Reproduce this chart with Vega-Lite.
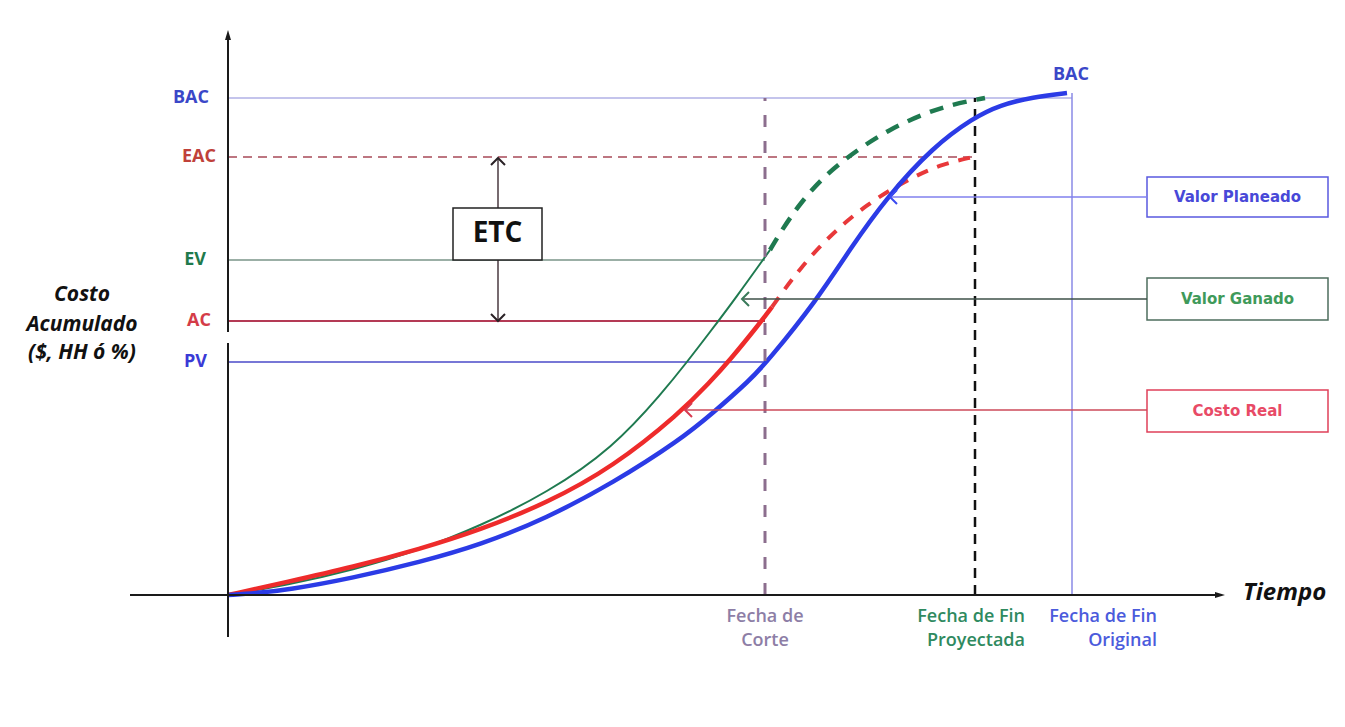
{
  "$schema": "https://vega.github.io/schema/vega-lite/v6.json",
  "width": 1345,
  "height": 727,
  "autosize": {"type": "fit", "contains": "padding"},
  "padding": 0,
  "background": "white",
  "config": {"view": {"stroke": null}},
  "datasets": {
    "curves": [
      {"s": "PV", "x": 0, "y": 0}, {"s": "PV", "x": 30, "y": 2}, {"s": "PV", "x": 59, "y": 5}, {"s": "PV", "x": 125, "y": 17},
      {"s": "PV", "x": 192, "y": 33}, {"s": "PV", "x": 252, "y": 50}, {"s": "PV", "x": 319, "y": 77},
      {"s": "PV", "x": 385, "y": 112}, {"s": "PV", "x": 452, "y": 155}, {"s": "PV", "x": 485, "y": 182},
      {"s": "PV", "x": 522, "y": 215}, {"s": "PV", "x": 539, "y": 233}, {"s": "PV", "x": 589, "y": 295}, {"s": "PV", "x": 622, "y": 346},
      {"s": "PV", "x": 659, "y": 398}, {"s": "PV", "x": 705, "y": 448}, {"s": "PV", "x": 745, "y": 477}, {"s": "PV", "x": 772, "y": 490},
      {"s": "PV", "x": 805, "y": 498}, {"s": "PV", "x": 839, "y": 502},
      {"s": "ACs", "x": 0, "y": 0}, {"s": "ACs", "x": 59, "y": 13}, {"s": "ACs", "x": 125, "y": 28}, {"s": "ACs", "x": 192, "y": 46},
      {"s": "ACs", "x": 252, "y": 65}, {"s": "ACs", "x": 319, "y": 92}, {"s": "ACs", "x": 385, "y": 128}, {"s": "ACs", "x": 452, "y": 182},
      {"s": "ACs", "x": 482, "y": 213}, {"s": "ACs", "x": 502, "y": 235}, {"s": "ACs", "x": 532, "y": 272}, {"s": "ACs", "x": 544, "y": 288},
      {"s": "ACd", "x": 544, "y": 288}, {"s": "ACd", "x": 556, "y": 305}, {"s": "ACd", "x": 572, "y": 326}, {"s": "ACd", "x": 592, "y": 349},
      {"s": "ACd", "x": 615, "y": 371}, {"s": "ACd", "x": 639, "y": 390}, {"s": "ACd", "x": 662, "y": 405}, {"s": "ACd", "x": 689, "y": 420},
      {"s": "ACd", "x": 715, "y": 431}, {"s": "ACd", "x": 745, "y": 438},
      {"s": "EVs", "x": 0, "y": 0}, {"s": "EVs", "x": 59, "y": 10}, {"s": "EVs", "x": 125, "y": 25}, {"s": "EVs", "x": 192, "y": 45},
      {"s": "EVs", "x": 252, "y": 69}, {"s": "EVs", "x": 319, "y": 102}, {"s": "EVs", "x": 385, "y": 147}, {"s": "EVs", "x": 435, "y": 203},
      {"s": "EVs", "x": 459, "y": 233}, {"s": "EVs", "x": 482, "y": 263}, {"s": "EVs", "x": 507, "y": 296}, {"s": "EVs", "x": 542, "y": 345},
      {"s": "EVd", "x": 542, "y": 345}, {"s": "EVd", "x": 552, "y": 362}, {"s": "EVd", "x": 572, "y": 392}, {"s": "EVd", "x": 599, "y": 422},
      {"s": "EVd", "x": 632, "y": 447}, {"s": "EVd", "x": 659, "y": 464}, {"s": "EVd", "x": 692, "y": 480}, {"s": "EVd", "x": 725, "y": 491},
      {"s": "EVd", "x": 757, "y": 497}
    ],
    "rules": [
      {"k": "axis", "x": -98, "y": 0, "x2": 990, "y2": 0},
      {"k": "axis", "x": 0, "y": -42, "x2": 0, "y2": 252},
      {"k": "axis", "x": 0, "y": 263, "x2": 0, "y2": 558},
      {"k": "bac", "x": 0, "y": 497, "x2": 844, "y2": 497},
      {"k": "eac", "x": 0, "y": 438, "x2": 747, "y2": 438},
      {"k": "ev", "x": 0, "y": 335, "x2": 537, "y2": 335},
      {"k": "ac", "x": 0, "y": 274, "x2": 537, "y2": 274},
      {"k": "pv", "x": 0, "y": 233, "x2": 537, "y2": 233},
      {"k": "corte", "x": 537, "y": 0, "x2": 537, "y2": 497},
      {"k": "proy", "x": 747, "y": 0, "x2": 747, "y2": 497},
      {"k": "orig", "x": 844, "y": 0, "x2": 844, "y2": 502},
      {"k": "etc", "x": 270, "y": 275, "x2": 270, "y2": 436},
      {"k": "cpv", "x": 663, "y": 398, "x2": 919, "y2": 398},
      {"k": "cev", "x": 515, "y": 296, "x2": 919, "y2": 296},
      {"k": "cac", "x": 458, "y": 185, "x2": 919, "y2": 185}
    ],
    "boxes": [
      {"k": "etc", "x": 225, "x2": 314, "y": 335, "y2": 387},
      {"k": "pv", "x": 919, "x2": 1100, "y": 378, "y2": 418},
      {"k": "ev", "x": 919, "x2": 1100, "y": 275, "y2": 317},
      {"k": "ac", "x": 919, "x2": 1100, "y": 163, "y2": 205}
    ],
    "heads": [
      {"k": "up", "x": 0, "y": 565},
      {"k": "right", "x": 997, "y": 0}
    ],
    "chevrons": [
      {"k": "etcup", "x": 270, "y": 437},
      {"k": "etcdown", "x": 270, "y": 274},
      {"k": "pv", "x": 662, "y": 398},
      {"k": "ev", "x": 514, "y": 296},
      {"k": "ac", "x": 457, "y": 185}
    ],
    "leftlabels": [
      {"t": "BAC", "k": "bac", "x": -19, "y": 497},
      {"t": "EAC", "k": "eac", "x": -12, "y": 438},
      {"t": "EV", "k": "ev", "x": -22, "y": 335},
      {"t": "AC", "k": "ac", "x": -17, "y": 274},
      {"t": "PV", "k": "pv", "x": -21, "y": 233}
    ],
    "ytitle": [
      {"t": "Costo", "x": -146, "y": 300},
      {"t": "Acumulado", "x": -146, "y": 270},
      {"t": "($, HH ó %)", "x": -146, "y": 242}
    ],
    "boxtext": [
      {"t": "Valor Planeado", "k": "pv", "x": 1009.5, "y": 398},
      {"t": "Valor Ganado", "k": "ev", "x": 1009.5, "y": 296},
      {"t": "Costo Real", "k": "ac", "x": 1009.5, "y": 184}
    ],
    "fechacentro": [
      {"t": "Fecha de", "x": 537, "y": -22},
      {"t": "Corte", "x": 537, "y": -46}
    ],
    "fechader": [
      {"t": "Fecha de Fin", "k": "proy", "x": 797, "y": -22},
      {"t": "Proyectada", "k": "proy", "x": 797, "y": -46},
      {"t": "Fecha de Fin", "k": "orig", "x": 929, "y": -22},
      {"t": "Original", "k": "orig", "x": 929, "y": -46}
    ],
    "misc": [
      {"t": "ETC", "k": "etc", "x": 269.5, "y": 361},
      {"t": "Tiempo", "k": "tiempo", "x": 1015, "y": 2},
      {"t": "BAC", "k": "bac", "x": 843, "y": 520}
    ]
  },
  "encoding": {
    "x": {"field": "x", "type": "quantitative", "scale": {"domain": [-228, 1117], "nice": false, "zero": false}, "axis": null},
    "y": {"field": "y", "type": "quantitative", "scale": {"domain": [-132, 595], "nice": false, "zero": false}, "axis": null}
  },
  "layer": [
    {"data": {"name": "rules"}, "transform": [{"filter": "datum.k == 'bac'"}], "mark": {"type": "rule", "color": "#c4c4ec", "strokeWidth": 2}, "encoding": {"x2": {"field": "x2"}, "y2": {"field": "y2"}}},
    {"data": {"name": "rules"}, "transform": [{"filter": "datum.k == 'eac'"}], "mark": {"type": "rule", "color": "#a84a58", "strokeWidth": 1.5, "strokeDash": [9, 6]}, "encoding": {"x2": {"field": "x2"}, "y2": {"field": "y2"}}},
    {"data": {"name": "rules"}, "transform": [{"filter": "datum.k == 'ev'"}], "mark": {"type": "rule", "color": "#7a9488", "strokeWidth": 1.5}, "encoding": {"x2": {"field": "x2"}, "y2": {"field": "y2"}}},
    {"data": {"name": "rules"}, "transform": [{"filter": "datum.k == 'ac'"}], "mark": {"type": "rule", "color": "#b43a55", "strokeWidth": 2}, "encoding": {"x2": {"field": "x2"}, "y2": {"field": "y2"}}},
    {"data": {"name": "rules"}, "transform": [{"filter": "datum.k == 'pv'"}], "mark": {"type": "rule", "color": "#4a4ac8", "strokeWidth": 1.5}, "encoding": {"x2": {"field": "x2"}, "y2": {"field": "y2"}}},
    {"data": {"name": "rules"}, "transform": [{"filter": "datum.k == 'orig'"}], "mark": {"type": "rule", "color": "#8a8ae6", "strokeWidth": 1.5}, "encoding": {"x2": {"field": "x2"}, "y2": {"field": "y2"}}},
    {"data": {"name": "rules"}, "transform": [{"filter": "datum.k == 'proy'"}], "mark": {"type": "rule", "color": "#111111", "strokeWidth": 2.5, "strokeDash": [10, 7]}, "encoding": {"x2": {"field": "x2"}, "y2": {"field": "y2"}}},
    {"data": {"name": "rules"}, "transform": [{"filter": "datum.k == 'etc'"}], "mark": {"type": "rule", "color": "#4a3a40", "strokeWidth": 1.5}, "encoding": {"x2": {"field": "x2"}, "y2": {"field": "y2"}}},
    {"data": {"name": "boxes"}, "mark": {"type": "rect", "fill": "white", "strokeWidth": 1.5}, "encoding": {"x2": {"field": "x2"}, "y2": {"field": "y2"}, "stroke": {"field": "k", "type": "nominal", "scale": {"domain": ["etc", "pv", "ev", "ac"], "range": ["#222222", "#5a5ae0", "#4e6e5e", "#e0405a"]}, "legend": null}}},
    {"data": {"name": "curves"}, "transform": [{"filter": "datum.s == 'EVs'"}], "mark": {"type": "line", "color": "#1f7a50", "strokeWidth": 2, "interpolate": "basis"}},
    {"data": {"name": "curves"}, "transform": [{"filter": "datum.s == 'EVd'"}], "mark": {"type": "line", "color": "#1f7a50", "strokeWidth": 4.5, "strokeDash": [14, 10], "interpolate": "basis"}},
    {"data": {"name": "curves"}, "transform": [{"filter": "datum.s == 'ACs'"}], "mark": {"type": "line", "color": "#ee2b2b", "strokeWidth": 4.5, "interpolate": "basis"}},
    {"data": {"name": "curves"}, "transform": [{"filter": "datum.s == 'ACd'"}], "mark": {"type": "line", "color": "#e8383a", "strokeWidth": 4, "strokeDash": [12, 10], "interpolate": "basis"}},
    {"data": {"name": "curves"}, "transform": [{"filter": "datum.s == 'PV'"}], "mark": {"type": "line", "color": "#2b3be6", "strokeWidth": 4.5, "interpolate": "basis"}},
    {"data": {"name": "rules"}, "transform": [{"filter": "datum.k == 'corte'"}], "mark": {"type": "rule", "color": "#8c6e8e", "strokeWidth": 3, "strokeDash": [12, 14]}, "encoding": {"x2": {"field": "x2"}, "y2": {"field": "y2"}}},
    {"data": {"name": "rules"}, "transform": [{"filter": "datum.k == 'cpv'"}], "mark": {"type": "rule", "color": "#8080ee", "strokeWidth": 1.5}, "encoding": {"x2": {"field": "x2"}, "y2": {"field": "y2"}}},
    {"data": {"name": "rules"}, "transform": [{"filter": "datum.k == 'cev'"}], "mark": {"type": "rule", "color": "#3e5048", "strokeWidth": 1.5}, "encoding": {"x2": {"field": "x2"}, "y2": {"field": "y2"}}},
    {"data": {"name": "rules"}, "transform": [{"filter": "datum.k == 'cac'"}], "mark": {"type": "rule", "color": "#cc4a5a", "strokeWidth": 1.5}, "encoding": {"x2": {"field": "x2"}, "y2": {"field": "y2"}}},
    {"data": {"name": "rules"}, "transform": [{"filter": "datum.k == 'axis'"}], "mark": {"type": "rule", "color": "#1a1a1a", "strokeWidth": 2}, "encoding": {"x2": {"field": "x2"}, "y2": {"field": "y2"}}},
    {"data": {"name": "heads"}, "mark": {"type": "point", "filled": true, "color": "#1a1a1a", "opacity": 1, "size": 100}, "encoding": {"shape": {"field": "k", "type": "nominal", "scale": {"domain": ["up", "right"], "range": ["M0,0L-0.6,2L0.6,2Z", "M0,0L-2,-0.6L-2,0.6Z"]}, "legend": null}}},
    {"data": {"name": "chevrons"}, "mark": {"type": "point", "filled": false, "opacity": 1, "size": 196, "strokeWidth": 2}, "encoding": {
      "shape": {"field": "k", "type": "nominal", "scale": {"domain": ["etcup", "etcdown", "pv", "ev", "ac"], "range": ["M-1,1L0,0L1,1", "M-1,-1L0,0L1,-1", "M1,-1L0,0L1,1", "M1,-1L0,0L1,1", "M1,-1L0,0L1,1"]}, "legend": null},
      "color": {"field": "k", "type": "nominal", "scale": {"domain": ["etcup", "etcdown", "pv", "ev", "ac"], "range": ["#2a2226", "#2a2226", "#3a4af0", "#3a7a5a", "#d83a50"]}, "legend": null}}},
    {"data": {"name": "leftlabels"}, "mark": {"type": "text", "align": "right", "baseline": "middle", "font": "Open Sans", "fontWeight": "bold", "fontSize": 18}, "encoding": {"text": {"field": "t"}, "color": {"field": "k", "type": "nominal", "scale": {"domain": ["bac", "eac", "ev", "ac", "pv"], "range": ["#3b47c8", "#c0413a", "#1f7a4c", "#d43c48", "#3a3ad6"]}, "legend": null}}},
    {"data": {"name": "ytitle"}, "mark": {"type": "text", "align": "center", "baseline": "middle", "font": "Open Sans", "fontWeight": "bold", "fontStyle": "italic", "fontSize": 21, "color": "#111111"}, "encoding": {"text": {"field": "t"}}},
    {"data": {"name": "boxtext"}, "mark": {"type": "text", "align": "center", "baseline": "middle", "font": "DejaVu Sans", "fontWeight": "bold", "fontSize": 15}, "encoding": {"text": {"field": "t"}, "color": {"field": "k", "type": "nominal", "scale": {"domain": ["pv", "ev", "ac"], "range": ["#4848d8", "#3f9a5a", "#e84a66"]}, "legend": null}}},
    {"data": {"name": "fechacentro"}, "mark": {"type": "text", "align": "center", "baseline": "middle", "font": "Open Sans", "fontWeight": 600, "fontSize": 18, "color": "#8d7ea6"}, "encoding": {"text": {"field": "t"}}},
    {"data": {"name": "fechader"}, "mark": {"type": "text", "align": "right", "baseline": "middle", "font": "Open Sans", "fontWeight": 600, "fontSize": 18}, "encoding": {"text": {"field": "t"}, "color": {"field": "k", "type": "nominal", "scale": {"domain": ["proy", "orig"], "range": ["#2f8a5f", "#4b5bdc"]}, "legend": null}}},
    {"data": {"name": "misc"}, "transform": [{"filter": "datum.k == 'etc'"}], "mark": {"type": "text", "align": "center", "baseline": "middle", "font": "Open Sans", "fontWeight": "bold", "fontSize": 28, "color": "#111111"}, "encoding": {"text": {"field": "t"}}},
    {"data": {"name": "misc"}, "transform": [{"filter": "datum.k == 'tiempo'"}], "mark": {"type": "text", "align": "left", "baseline": "middle", "font": "Open Sans", "fontWeight": "bold", "fontStyle": "italic", "fontSize": 24, "color": "#111111"}, "encoding": {"text": {"field": "t"}}},
    {"data": {"name": "misc"}, "transform": [{"filter": "datum.k == 'bac'"}], "mark": {"type": "text", "align": "center", "baseline": "middle", "font": "Open Sans", "fontWeight": "bold", "fontSize": 18, "color": "#3b47c8"}, "encoding": {"text": {"field": "t"}}}
  ],
  "resolve": {"scale": {"color": "independent", "shape": "independent", "stroke": "independent"}}
}
